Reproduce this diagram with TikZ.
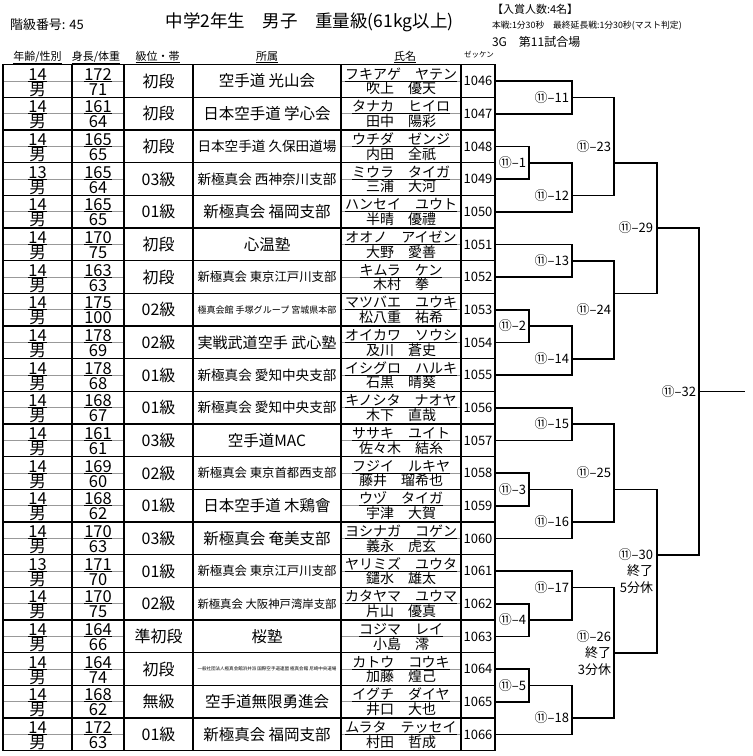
\documentclass[tikz,border=0pt]{standalone}
\usepackage{fontspec}
\setmainfont{Noto Sans CJK JP}
\newsavebox\affbox
\newcommand\fs[1]{\fontsize{#1}{#1}\selectfont}
\newcommand\fitaff[1]{\sbox\affbox{\fs{15.5}#1}\ifdim\wd\affbox>139pt\relax\pgfmathsetmacro\afs{15.5*139/\the\wd\affbox}{\fs{\afs}#1}\else\usebox\affbox\fi}
\begin{document}
\begin{tikzpicture}[x=1pt,y=-1pt,
  every node/.style={inner sep=0pt, outer sep=0pt},
  tl/.style={line width=1.1pt},
  gl/.style={line width=0.8pt, draw=black!40},
  ul/.style={line width=0.9pt},
  br/.style={line width=1.6pt},
  bl/.style={anchor=base, font=\fs{16.5}},
  nm/.style={anchor=base, font=\fs{14}},
  hd/.style={anchor=base, font=\fs{11}},
  lab/.style={anchor=east, font=\fs{13}},
  labm/.style={anchor=east, font=\fontsize{13}{16.5}\selectfont, align=right}]
\useasboundingbox (0,0) rectangle (753,756);
\fill[white] (0,0) rectangle (753,756);
% header
\node[anchor=west,font=\fs{13}] (cls) at (10,25) {階級番号: 45};
\node[font=\fs{17.5}] (title) at (309.5,22.7) {中学2年生　男子　重量級(61kg以上)};
\node[anchor=west,font=\fs{11}] (prize) at (492,9) {【入賞人数:4名】};
\node[anchor=west,font=\fs{8.8}] (rule) at (492,26) {本戦:1分30秒　最終延長戦:1分30秒(マスト判定)};
\node[anchor=west,font=\fs{12}] (court) at (492,42) {3G　第11試合場};
\node[hd] (h1) at (37.5,60) {\underline{年齢/性別}};
\node[hd] (h2) at (96,60) {\underline{身長/体重}};
\node[hd] (h3) at (157.5,60) {\underline{級位・帯}};
\node[hd] (h4) at (267,60) {\underline{所属}};
\node[hd] (h5) at (405,60) {\underline{氏名}};
\node[anchor=base,font=\fs{7.5}] (h6) at (479,57) {ゼッケン};
% column coordinates
\coordinate (xA) at (529,0);
\coordinate (xB) at (572,0);
\coordinate (xC) at (614,0);
\coordinate (xD) at (657,0);
\coordinate (xE) at (699,0);
\coordinate (xF) at (745,0);
\coordinate (lA) at (526,0);
\coordinate (lB) at (569,0);
\coordinate (lC) at (611,0);
\coordinate (lD) at (653,0);
\coordinate (lE) at (696,0);
\foreach \i in {0,...,21}{
  \pgfmathsetmacro\rowtop{64.7+32.667*\i}
  \coordinate (t\i) at (0,\rowtop);
}
% rows
\foreach \vage/\vhgt/\vwgt/\vgrd/\vaff/\vkana/\vkanji/\vzk [count=\i from 0] in {
14/172/71/初段/空手道 光山会/フキアゲ　ヤテン/吹上　優天/1046,
14/161/64/初段/日本空手道 学心会/タナカ　ヒイロ/田中　陽彩/1047,
14/165/65/初段/日本空手道 久保田道場/ウチダ　ゼンジ/内田　全祇/1048,
13/165/64/03級/新極真会 西神奈川支部/ミウラ　タイガ/三浦　大河/1049,
14/165/65/01級/新極真会 福岡支部/ハンセイ　ユウト/半晴　優禮/1050,
14/170/75/初段/心温塾/オオノ　アイゼン/大野　愛善/1051,
14/163/63/初段/新極真会 東京江戸川支部/キムラ　ケン/木村　拳/1052,
14/175/100/02級/極真会館 手塚グループ 宮城県本部/マツバエ　ユウキ/松八重　祐希/1053,
14/178/69/02級/実戦武道空手 武心塾/オイカワ　ソウシ/及川　蒼史/1054,
14/178/68/01級/新極真会 愛知中央支部/イシグロ　ハルキ/石黒　晴葵/1055,
14/168/67/01級/新極真会 愛知中央支部/キノシタ　ナオヤ/木下　直哉/1056,
14/161/61/03級/空手道MAC/ササキ　ユイト/佐々木　結糸/1057,
14/169/60/02級/新極真会 東京首都西支部/フジイ　ルキヤ/藤井　瑠希也/1058,
14/168/62/01級/日本空手道 木鶏會/ウヅ　タイガ/宇津　大賀/1059,
14/170/63/03級/新極真会 奄美支部/ヨシナガ　コゲン/義永　虎玄/1060,
13/171/70/01級/新極真会 東京江戸川支部/ヤリミズ　ユウタ/鑓水　雄太/1061,
14/170/75/02級/新極真会 大阪神戸湾岸支部/カタヤマ　ユウマ/片山　優真/1062,
14/164/66/準初段/桜塾/コジマ　レイ/小島　澪/1063,
14/164/74/初段/一般社団法人極真会館浜井派 国際空手道連盟 極真会館 尼崎中央道場/カトウ　コウキ/加藤　煌己/1064,
14/168/62/無級/空手道無限勇進会/イグチ　ダイヤ/井口　大也/1065,
14/172/63/01級/新極真会 福岡支部/ムラタ　テッセイ/村田　哲成/1066}{
  \pgfmathsetmacro\rowtop{64.7+32.667*\i}
  \pgfmathsetmacro\rowmid{\rowtop+16.333}
  \coordinate (m\i) at (0,\rowmid);
  \coordinate (z\i) at (495,\rowmid);
  \draw[gl] (3,\rowmid) -- (124,\rowmid);
  \draw[gl] (341,\rowmid) -- (461,\rowmid);
  \node[bl] (ag\i) at (37.5,{\rowtop+15.3}) {\vage};
  \node[bl] (sx\i) at (37.5,{\rowtop+30.3}) {男};
  \node[bl] (ht\i) at (98,{\rowtop+15.3}) {\vhgt};
  \node[bl] (wt\i) at (98,{\rowtop+30.3}) {\vwgt};
  \node[font=\fs{16}] (gr\i) at (158.5,\rowmid) {\vgrd};
  \node (af\i) at (267,\rowmid) {\fitaff{\vaff}};
  \node[nm] (ka\i) at (401,{\rowtop+14.3}) {\vkana};
  \node[nm] (kj\i) at (401,{\rowtop+29}) {\vkanji};
  \node[font=\fs{13}] (zk\i) at (478,\rowmid) {\vzk};
  \draw[ul] (ag\i.west |- m\i) -- (ag\i.east |- m\i);
  \draw[ul] (ht\i.west |- m\i) -- (ht\i.east |- m\i);
  \draw[ul] (ka\i.west |- m\i) -- (ka\i.east |- m\i);
  \draw[tl] (3,{\rowtop+32.667}) -- (495,{\rowtop+32.667});
}
% table frame
\draw[tl] (3,64.7) rectangle (495,750.7);
\foreach \c in {72,124,193,341,461}{
  \draw[tl] (\c,64.7) -- (\c,750.7);
}
% round 1
\draw[br] (z2) -- (xA |- m2) -- (xA |- m3) -- (z3);
\draw[br] (z7) -- (xA |- m7) -- (xA |- m8) -- (z8);
\draw[br] (z12) -- (xA |- m12) -- (xA |- m13) -- (z13);
\draw[br] (z16) -- (xA |- m16) -- (xA |- m17) -- (z17);
\draw[br] (z18) -- (xA |- m18) -- (xA |- m19) -- (z19);
% round 2
\draw[br] (z0) -- (xB |- m0) -- (xB |- m1) -- (z1);
\draw[br] (xA |- t3) -- (xB |- t3) -- (xB |- m4) -- (z4);
\draw[br] (z5) -- (xB |- m5) -- (xB |- m6) -- (z6);
\draw[br] (xA |- t8) -- (xB |- t8) -- (xB |- m9) -- (z9);
\draw[br] (z10) -- (xB |- m10) -- (xB |- m11) -- (z11);
\draw[br] (xA |- t13) -- (xB |- t13) -- (xB |- m14) -- (z14);
\draw[br] (z15) -- (xB |- m15) -- (xB |- t17) -- (xA |- t17);
\draw[br] (xA |- t19) -- (xB |- t19) -- (xB |- m20) -- (z20);
% round 3
\draw[br] (xB |- t1) -- (xC |- t1) -- (xC |- t4) -- (xB |- t4);
\draw[br] (xB |- t6) -- (xC |- t6) -- (xC |- t9) -- (xB |- t9);
\draw[br] (xB |- t11) -- (xC |- t11) -- (xC |- t14) -- (xB |- t14);
\draw[br] (xB |- t16) -- (xC |- t16) -- (xC |- t20) -- (xB |- t20);
% round 4
\draw[br] (xC |- t3) -- (xD |- t3) -- (xD |- t7) -- (xC |- t7);
\draw[br] (xC |- t13) -- (xD |- t13) -- (xD |- t18) -- (xC |- t18);
% final
\draw[br] (xD |- t5) -- (xE |- t5) -- (xE |- t15) -- (xD |- t15);
\draw[br] (xE |- t10) -- (xF |- t10);
% labels
\node[lab] (r1) at (lA |- t3) {⑪–1};
\node[lab] (r2) at (lA |- t8) {⑪–2};
\node[lab] (r3) at (lA |- t13) {⑪–3};
\node[lab] (r4) at (lA |- t17) {⑪–4};
\node[lab] (r5) at (lA |- t19) {⑪–5};
\node[lab] (r11) at (lB |- t1) {⑪–11};
\node[lab] (r12) at (lB |- t4) {⑪–12};
\node[lab] (r13) at (lB |- t6) {⑪–13};
\node[lab] (r14) at (lB |- t9) {⑪–14};
\node[lab] (r15) at (lB |- t11) {⑪–15};
\node[lab] (r16) at (lB |- t14) {⑪–16};
\node[lab] (r17) at (lB |- t16) {⑪–17};
\node[lab] (r18) at (lB |- t20) {⑪–18};
\node[lab] (r23) at (lC |- m2) {⑪–23};
\node[lab] (r24) at (lC |- m7) {⑪–24};
\node[lab] (r25) at (lC |- m12) {⑪–25};
\node[labm] (r26) at (lC |- t18) {⑪–26\\終了\\3分休};
\node[lab] (r29) at (lD |- t5) {⑪–29};
\node[labm] (r30) at (lD |- m15) {⑪–30\\終了\\5分休};
\node[lab] (r32) at (lE |- t10) {⑪–32};
\end{tikzpicture}
\end{document}
